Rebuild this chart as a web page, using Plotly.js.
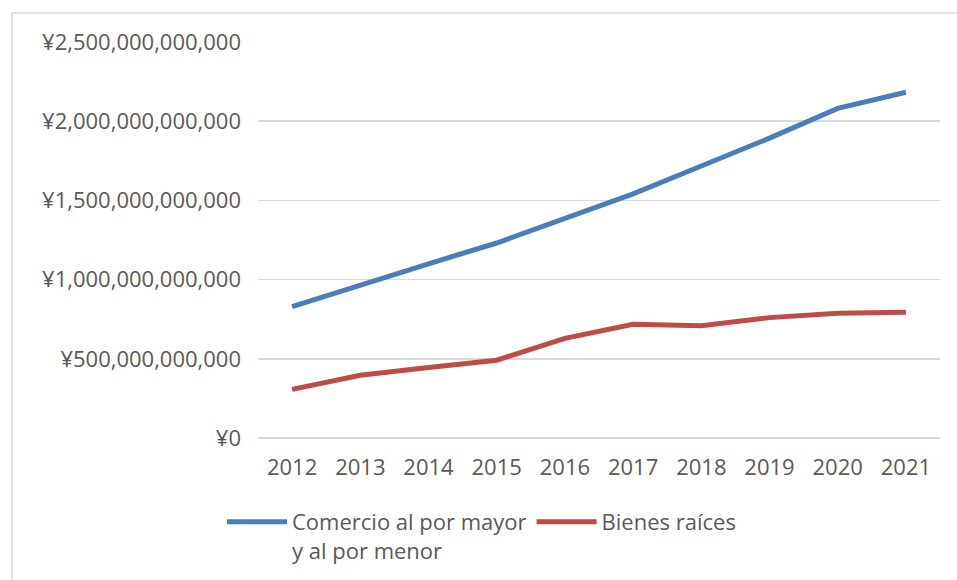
<!DOCTYPE html>
<html>
<head>
<meta charset="utf-8">
<script src="https://cdn.plot.ly/plotly-3.0.1.min.js"></script>
<style>
html,body{margin:0;padding:0;background:#fff;}
#chart{width:957px;height:580px;}
</style>
</head>
<body>
<div id="chart"></div>
<script>
const years = ["2012","2013","2014","2015","2016","2017","2018","2019","2020","2021"];
const comercio = [0.829e12, 0.967e12, 1.100e12, 1.231e12, 1.387e12, 1.541e12, 1.717e12, 1.893e12, 2.081e12, 2.183e12];
const bienes = [0.307e12, 0.396e12, 0.445e12, 0.491e12, 0.629e12, 0.718e12, 0.709e12, 0.760e12, 0.788e12, 0.794e12];
const seriesNames = ["Comercio al por mayor<br>y al por menor", "Bienes raíces"];

const fontFam = "'Open Sans', 'Liberation Sans', Arial, sans-serif";
const txtColor = "#595959";
const fs = 22;

const traces = [
  {x: years, y: comercio, name: seriesNames[0], type: "scatter", mode: "lines",
   line: {color: "#4A7EBB", width: 5}},
  {x: years, y: bienes, name: seriesNames[1], type: "scatter", mode: "lines",
   line: {color: "#BE4B48", width: 5}}
];

const L = 258, R = 17, T = 42, B = 142;
const pw = 957 - L - R, ph = 580 - T - B;
const px = v => (v - L) / pw;
const py = v => (580 - B - v) / ph;

const layout = {
  width: 957, height: 580,
  margin: {l: L, r: R, t: T, b: B, pad: 0, autoexpand: false},
  paper_bgcolor: "#fff", plot_bgcolor: "#fff",
  font: {family: fontFam, size: fs, color: txtColor},
  showlegend: true,
  xaxis: {type: "category", range: [-0.5, 9.5], showgrid: false, zeroline: false,
          showline: false, ticks: "", ticklen: 0, ticklabelstandoff: 14,
          tickfont: {family: fontFam, size: fs, color: txtColor}, fixedrange: true},
  yaxis: {range: [0, 2.5e12], dtick: 5e11, tick0: 0, tickprefix: "¥", tickformat: ",d",
          showgrid: true, gridcolor: "#D9D9D9", gridwidth: 1.5, zeroline: true,
          zerolinecolor: "#D9D9D9", zerolinewidth: 1.5, showline: false, ticks: "",
          ticklabelstandoff: 16,
          tickfont: {family: fontFam, size: fs, color: txtColor}, fixedrange: true},
  legend: {orientation: "h", x: px(222), xanchor: "left", y: py(501), yanchor: "top",
           font: {family: fontFam, size: fs, color: txtColor}, itemwidth: 60,
           bgcolor: "rgba(0,0,0,0)", tracegroupgap: 0, valign: "top"},
  shapes: [
    {type: "rect", xref: "paper", yref: "paper", x0: px(12), x1: px(960), y0: py(590), y1: py(13),
     line: {color: "#D9D9D9", width: 1.5}, fillcolor: "rgba(0,0,0,0)", layer: "below"}
  ]
};

Plotly.newPlot("chart", traces, layout, {displayModeBar: false, staticPlot: true});
</script>
</body>
</html>
